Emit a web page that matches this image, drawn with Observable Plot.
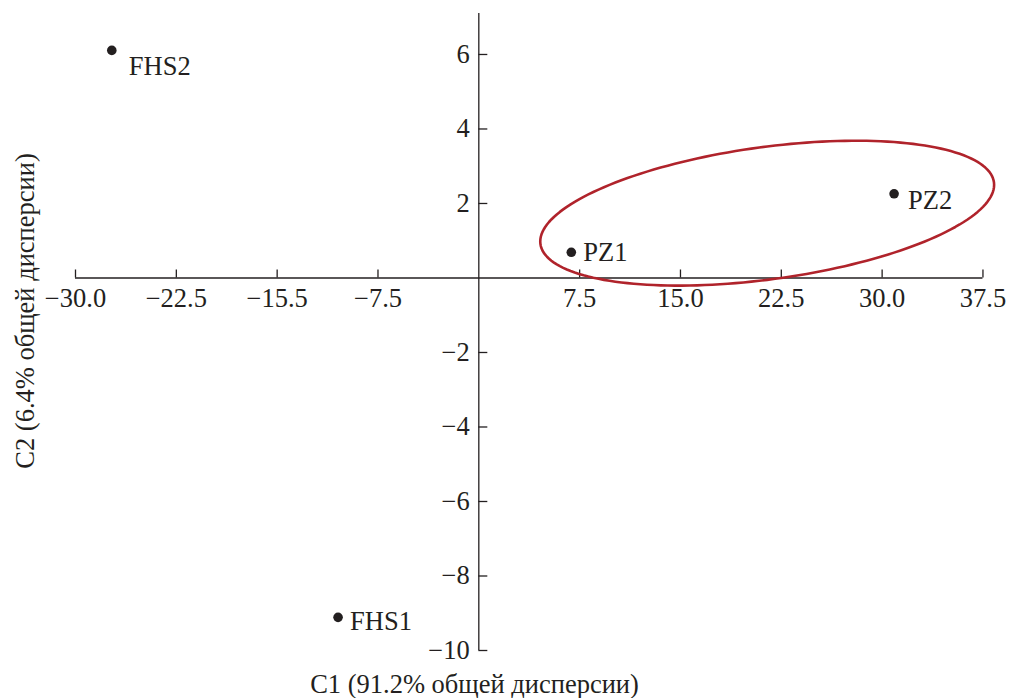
<!DOCTYPE html>
<html>
<head>
<meta charset="utf-8">
<script src="https://cdn.jsdelivr.net/npm/d3@7"></script>
<script src="https://cdn.jsdelivr.net/npm/@observablehq/plot@0.6"></script>
<style>
  html, body { margin: 0; padding: 0; background: #fff; }
  #chart svg { display: block; }
</style>
</head>
<body>
<div id="chart"></div>
<script>
// ---- data ----
const samples = ["FHS2", "FHS1", "PZ1", "PZ2"];
const c1 = [-27.3, -10.47, 6.88, 30.89];
const c2 = [6.11, -9.11, 0.69, 2.26];

const xTicks = [-30, -22.5, -15, -7.5, 7.5, 15, 22.5, 30, 37.5];
const xTickLabels = ["−30.0", "−22.5", "−15.5", "−7.5", "7.5", "15.0", "22.5", "30.0", "37.5"];
const yTicks = [6, 4, 2, -2, -4, -6, -8, -10];
const yTickLabels = ["6", "4", "2", "−2", "−4", "−6", "−8", "−10"];

const xLabel = "C1 (91.2% общей дисперсии)";
const yLabel = "C2 (6.4% общей дисперсии)";

// group ellipse (PZ) in data units: center and conjugate half-axes
const ellCx = 21.45, ellCy = 1.74;
const ellUx = 16.88, ellUy = 0.76;
const ellVx = 0, ellVy = 1.79;

// ---- build ----
const points = samples.map((s, i) => ({name: s, x: c1[i], y: c2[i]}));
const xt = xTicks.map((v, i) => ({v, label: xTickLabels[i]}));
const yt = yTicks.map((v, i) => ({v, label: yTickLabels[i]}));
const ellipse = d3.range(0, 361, 2).map(a => {
  const t = a * Math.PI / 180;
  return {x: ellCx + ellUx * Math.cos(t) + ellVx * Math.sin(t),
          y: ellCy + ellUy * Math.cos(t) + ellVy * Math.sin(t)};
});

const ink = "#231f20";
const font = "Liberation Serif, Times New Roman, serif";
const fs = 26.5;

const labelMark = (name, dx, dy) => Plot.text(points, {
  filter: d => d.name === name, x: "x", y: "y", text: "name",
  textAnchor: "start", dx, dy, fill: ink, fontSize: fs
});

const chart = Plot.plot({
  width: 1009,
  height: 698,
  marginLeft: 75,
  marginRight: 1,
  marginTop: 13,
  marginBottom: 48,
  style: {fontFamily: font, background: "#fff", color: ink},
  x: {domain: [-30, 39.4], axis: null},
  y: {domain: [-10, 7.1], axis: null},
  marks: [
    // axes lines through origin
    Plot.ruleY([0], {x1: xTicks[0], x2: xTicks[xTicks.length - 1], stroke: ink, strokeWidth: 1.3}),
    Plot.ruleX([0], {y1: yTicks[yTicks.length - 1], y2: 7.1, stroke: ink, strokeWidth: 1.3}),
    // x ticks (pointing up)
    Plot.ruleX(xt, {x: "v", y1: 0, y2: 0, insetTop: -8, stroke: ink, strokeWidth: 1.3}),
    Plot.text(xt, {x: "v", y: 0, text: "label", dy: 21, fill: ink, fontSize: fs}),
    // y ticks (pointing right)
    Plot.ruleY(yt, {y: "v", x1: 0, x2: 0, insetRight: -9, stroke: ink, strokeWidth: 1.3}),
    Plot.text(yt, {x: 0, y: "v", text: "label", dx: -9, textAnchor: "end", fill: ink, fontSize: fs}),
    // ellipse
    Plot.line(ellipse, {x: "x", y: "y", stroke: "#b0232b", strokeWidth: 2.6}),
    // points
    Plot.dot(points, {x: "x", y: "y", r: 4.8, fill: ink, stroke: "none"}),
    labelMark("FHS2", 17, 16),
    labelMark("FHS1", 12, 4),
    labelMark("PZ1", 12, 0),
    labelMark("PZ2", 14, 7),
    // axis titles
    Plot.text([xLabel], {frameAnchor: "bottom", text: d => d, textAnchor: "middle", lineAnchor: "middle",
      dx: -67.5, dy: 34.5, fill: ink, fontSize: fs}),
    Plot.text([yLabel], {frameAnchor: "left", text: d => d, rotate: -90, textAnchor: "middle", lineAnchor: "middle",
      dx: -50, dy: -21, fill: ink, fontSize: fs})
  ]
});

document.getElementById("chart").appendChild(chart);
</script>
</body>
</html>
